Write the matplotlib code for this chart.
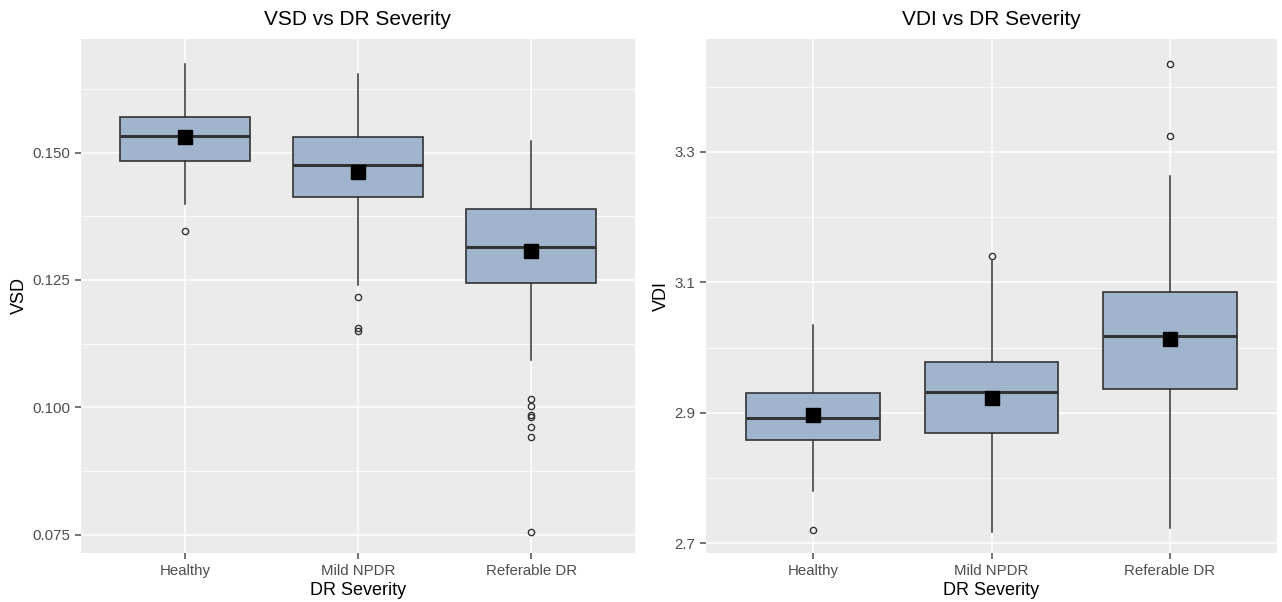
import numpy as np
import matplotlib.pyplot as plt

plt.rcParams['font.family'] = ['Liberation Sans', 'DejaVu Sans']

groups = ["Healthy", "Mild NPDR", "Referable DR"]

# VSD panel
vsd_whislo = [0.1400, 0.1240, 0.1093]
vsd_q1 = [0.1483, 0.1413, 0.1245]
vsd_med = [0.1533, 0.1475, 0.1314]
vsd_q3 = [0.1570, 0.1530, 0.1389]
vsd_whishi = [0.1674, 0.1655, 0.1523]
vsd_mean = [0.1531, 0.1461, 0.1307]
vsd_fliers = [[0.1347], [0.1216, 0.1156, 0.1150],
              [0.1016, 0.1003, 0.0985, 0.0981, 0.0962, 0.0942, 0.0755]]

# VDI panel
vdi_whislo = [2.780, 2.717, 2.724]
vdi_q1 = [2.859, 2.869, 2.937]
vdi_med = [2.892, 2.932, 3.018]
vdi_q3 = [2.931, 2.978, 3.085]
vdi_whishi = [3.034, 3.132, 3.263]
vdi_mean = [2.897, 2.923, 3.013]
vdi_fliers = [[2.721], [3.140], [3.435, 3.325]]

fill = '#a0b5cd'
edge = '#333333'
bg = '#ebebeb'


def make_stats(lo, q1, med, q3, hi, fl):
    out = []
    for i in range(len(groups)):
        out.append(dict(whislo=lo[i], q1=q1[i], med=med[i], q3=q3[i],
                        whishi=hi[i], fliers=fl[i], label=groups[i]))
    return out


def draw(ax, stats, means, title, ylabel, ylim, major, minor):
    ax.set_facecolor(bg)
    for v in major:
        ax.axhline(v, color='white', lw=1.1, zorder=0)
    for v in minor:
        ax.axhline(v, color='white', lw=0.55, zorder=0)
    pos = np.arange(1, len(groups) + 1)
    for p in pos:
        ax.axvline(p, color='white', lw=1.1, zorder=0)
    ax.bxp(stats, positions=pos, widths=0.75, patch_artist=True, showcaps=False,
           boxprops=dict(facecolor=fill, edgecolor=edge, linewidth=1.2),
           medianprops=dict(color=edge, linewidth=2.2),
           whiskerprops=dict(color=edge, linewidth=1.1),
           flierprops=dict(marker='o', markerfacecolor='none', markeredgecolor=edge,
                           markersize=4.5, markeredgewidth=1.0))
    ax.plot(pos, means, 's', color='black', markersize=10.5, zorder=5)
    ax.set_xlim(0.4, 3.6)
    ax.set_ylim(*ylim)
    ax.set_yticks(major)
    ax.set_xticks(pos)
    ax.set_xticklabels(groups)
    for s in ax.spines.values():
        s.set_visible(False)
    ax.tick_params(colors='#4d4d4d', labelsize=10.8, length=4, width=1.1,
                   labelcolor='#4d4d4d', pad=4)
    ax.set_title(title, fontsize=15, pad=10)
    ax.set_xlabel('DR Severity', fontsize=13, labelpad=3)
    ax.set_ylabel(ylabel, fontsize=13, labelpad=3)


fig = plt.figure(figsize=(12.82, 6.02), dpi=100)
ax1 = fig.add_axes([81 / 1282, 1 - 553 / 602, (635 - 81) / 1282, (553 - 39) / 602])
ax2 = fig.add_axes([706 / 1282, 1 - 553 / 602, (1277 - 706) / 1282, (553 - 39) / 602])

draw(ax1, make_stats(vsd_whislo, vsd_q1, vsd_med, vsd_q3, vsd_whishi, vsd_fliers),
     vsd_mean, 'VSD vs DR Severity', 'VSD', (0.0714, 0.1723),
     [0.075, 0.100, 0.125, 0.150], [0.0875, 0.1125, 0.1375, 0.1625])
ax1.set_yticklabels(['0.075', '0.100', '0.125', '0.150'])

draw(ax2, make_stats(vdi_whislo, vdi_q1, vdi_med, vdi_q3, vdi_whishi, vdi_fliers),
     vdi_mean, 'VDI vs DR Severity', 'VDI', (2.685, 3.473),
     [2.7, 2.9, 3.1, 3.3], [2.8, 3.0, 3.2, 3.4])
ax2.set_yticklabels(['2.7', '2.9', '3.1', '3.3'])

fig.savefig('out.png', dpi=100)
